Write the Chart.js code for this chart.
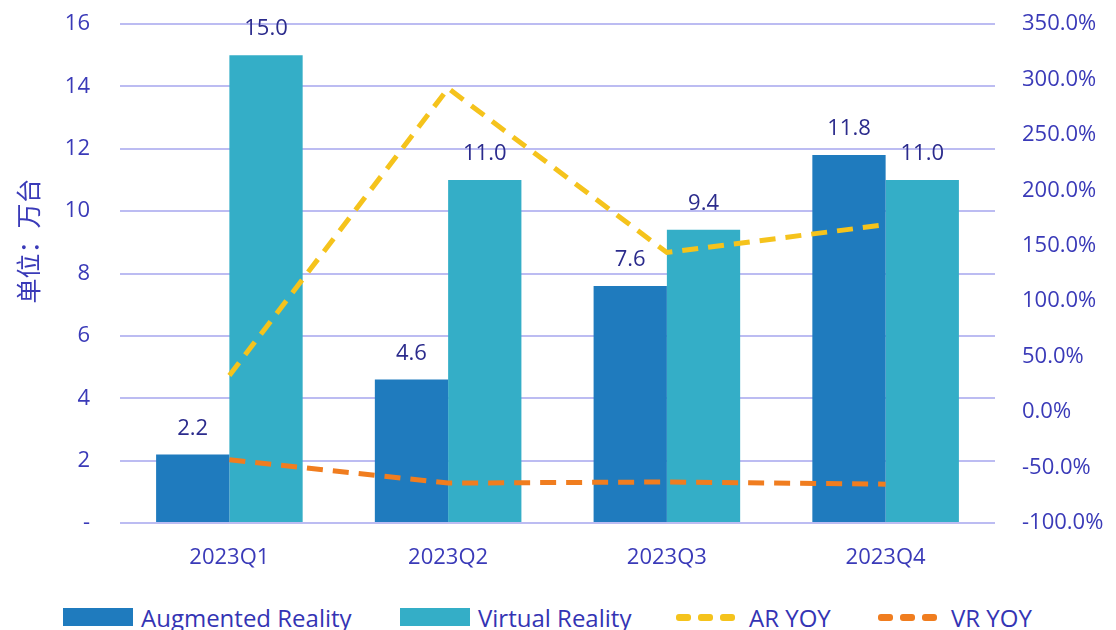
<!DOCTYPE html>
<html lang="zh">
<head>
    <meta charset="UTF-8">
    <title>AR / VR Shipments 2023</title>
    <script src="https://cdn.jsdelivr.net/npm/chart.js"></script>
    <style>
        body {
            margin: 0;
            background: white;
            font-family: "Open Sans", "Noto Sans CJK SC", sans-serif;
            width: 1116px;
            height: 630px;
            overflow: hidden;
            position: relative;
        }
        .chart-box {
            position: absolute;
            left: 0;
            top: 0;
            width: 1116px;
            height: 590px;
        }
        .legend {
            position: absolute;
            top: 602px;
            left: 0;
            width: 1116px;
            height: 30px;
            font-size: 24px;
            color: #3434b4;
        }
        .legend .item {
            position: absolute;
            top: 0;
            display: flex;
            align-items: center;
            height: 30px;
            white-space: nowrap;
        }
        .legend .box {
            width: 70px;
            height: 18px;
            margin-right: 8px;
        }
        .legend .dashes {
            display: flex;
            margin-right: 7px;
        }
        .legend .dashes span {
            width: 15px;
            height: 7px;
            border-radius: 3px;
            margin-right: 7px;
        }
    </style>
</head>
<body>
    <div class="chart-box">
        <canvas id="arvrChart" width="1116" height="590"></canvas>
    </div>
    <div class="legend">
        <div class="item" style="left:63px"><div class="box" style="background:#1f7bbe"></div>Augmented Reality</div>
        <div class="item" style="left:400px"><div class="box" style="background:#34aec7"></div>Virtual Reality</div>
        <div class="item" style="left:676px"><div class="dashes"><span style="background:#f5c31c"></span><span style="background:#f5c31c"></span><span style="background:#f5c31c"></span></div>AR YOY</div>
        <div class="item" style="left:878px"><div class="dashes"><span style="background:#f07d1f"></span><span style="background:#f07d1f"></span><span style="background:#f07d1f"></span></div>VR YOY</div>
    </div>

    <script>
    // data
    const quarters = ['2023Q1', '2023Q2', '2023Q3', '2023Q4'];
    const arUnits = [2.2, 4.6, 7.6, 11.8];      // 万台
    const vrUnits = [15.0, 11.0, 9.4, 11.0];
    const arYoy = [33, 292, 144, 169];           // %
    const vrYoy = [-43, -64, -63, -65];
    const leftTicks = [0, 2, 4, 6, 8, 10, 12, 14, 16];
    const rightTicks = [-100, -50, 0, 50, 100, 150, 200, 250, 300, 350];

    const tickColor = '#3a3ab8';
    const gridColor = '#bcbcf2';

    // values above the bars + the unit title on the left
    const barLabels = {
        id: 'barLabels',
        afterDatasetsDraw(chart) {
            const ctx = chart.ctx;
            ctx.save();
            ctx.fillStyle = '#2b2b8c';
            ctx.font = '22px "Open Sans"';
            ctx.textAlign = 'center';
            ctx.textBaseline = 'bottom';
            chart.data.datasets.forEach((ds, i) => {
                if (ds.type !== 'bar') return;
                chart.getDatasetMeta(i).data.forEach((bar, j) => {
                    ctx.fillText(ds.data[j].toFixed(1), bar.x, bar.y - 15);
                });
            });
            ctx.restore();

            // y axis unit, a bit above the middle like the original
            ctx.save();
            ctx.translate(28, 241);
            ctx.rotate(-Math.PI / 2);
            ctx.fillStyle = tickColor;
            ctx.font = '25px "Noto Sans CJK SC"';
            ctx.textAlign = 'center';
            ctx.textBaseline = 'middle';
            ctx.fillText('单位：万台', 0, 0);
            ctx.restore();
        }
    };

    // keep the plot area at a fixed place, like the reference
    function fixVertical(width) {
        return scale => {
            scale.width = width;
            scale.paddingTop = 0;
            scale.paddingBottom = 0;
        };
    }

    const ctx = document.getElementById('arvrChart').getContext('2d');
    new Chart(ctx, {
        data: {
            labels: quarters,
            datasets: [
                {
                    type: 'line',
                    label: 'AR YOY',
                    data: arYoy,
                    yAxisID: 'y1',
                    borderColor: '#f5c31c',
                    borderWidth: 5,
                    borderDash: [16, 10],
                    pointRadius: 0,
                    tension: 0,
                    order: 0
                },
                {
                    type: 'line',
                    label: 'VR YOY',
                    data: vrYoy,
                    yAxisID: 'y1',
                    borderColor: '#f07d1f',
                    borderWidth: 5,
                    borderDash: [16, 10],
                    pointRadius: 0,
                    tension: 0,
                    order: 0
                },
                {
                    type: 'bar',
                    label: 'Augmented Reality',
                    data: arUnits,
                    yAxisID: 'y',
                    backgroundColor: '#1f7bbe',
                    barPercentage: 1.0,
                    categoryPercentage: 0.67,
                    order: 1
                },
                {
                    type: 'bar',
                    label: 'Virtual Reality',
                    data: vrUnits,
                    yAxisID: 'y',
                    backgroundColor: '#34aec7',
                    barPercentage: 1.0,
                    categoryPercentage: 0.67,
                    order: 1
                }
            ]
        },
        options: {
            responsive: false,
            animation: false,
            layout: {
                padding: { top: 24, bottom: 0, left: 0, right: 0 }
            },
            plugins: {
                legend: { display: false },
                tooltip: { enabled: false }
            },
            scales: {
                x: {
                    grid: { display: false },
                    border: { display: false },
                    ticks: {
                        color: tickColor,
                        padding: 14,
                        font: { family: 'Open Sans', size: 22 }
                    },
                    afterFit(scale) {
                        scale.height = 67;
                        scale.paddingLeft = 0;
                        scale.paddingRight = 0;
                    }
                },
                y: {
                    position: 'left',
                    min: 0,
                    max: 16,
                    afterBuildTicks(scale) {
                        scale.ticks = leftTicks.map(v => ({ value: v }));
                    },
                    ticks: {
                        color: tickColor,
                        padding: 30,
                        font: { family: 'Open Sans', size: 22 },
                        callback: v => v === 0 ? '-' : String(v)
                    },
                    grid: {
                        color: gridColor,
                        lineWidth: 2,
                        drawTicks: false
                    },
                    border: { display: false },
                    afterFit: fixVertical(120)
                },
                y1: {
                    position: 'right',
                    min: -100,
                    max: 350,
                    afterBuildTicks(scale) {
                        scale.ticks = rightTicks.map(v => ({ value: v }));
                    },
                    ticks: {
                        color: tickColor,
                        padding: 27,
                        font: { family: 'Open Sans', size: 22 },
                        callback: v => v.toFixed(1) + '%'
                    },
                    grid: { display: false, drawTicks: false },
                    border: { display: false },
                    afterFit: fixVertical(121)
                }
            }
        },
        plugins: [barLabels]
    });
    </script>
</body>
</html>
